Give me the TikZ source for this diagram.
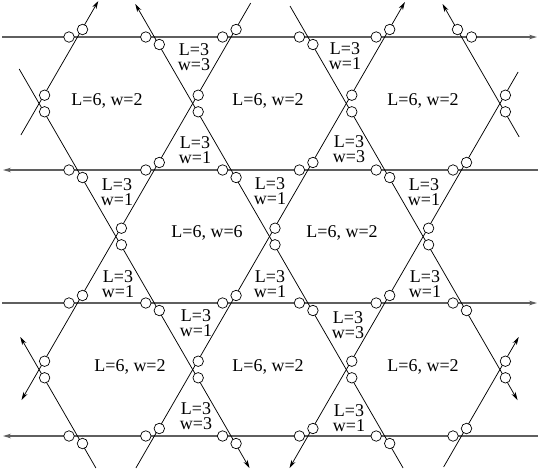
\documentclass[tikz,border=0pt]{standalone}
\usepackage{fontspec}
\setmainfont{Liberation Serif}
\usetikzlibrary{arrows.meta,calc}
\definecolor{hgray}{RGB}{95,95,95}
\begin{document}
\begin{tikzpicture}[x=1pt,y=-1pt,
  hline/.style={draw=hgray,line width=1.1pt},
  dline/.style={draw=black,line width=0.75pt},
  tip/.style={-{Stealth[length=8pt,width=4.6pt,inset=2.4pt]}},
  ring/.style={circle,draw=black,fill=white,line width=0.7pt,inner sep=0pt,minimum size=10.5pt},
  lab/.style={font=\fontsize{18}{15.5}\selectfont,align=center,inner sep=0pt},
]
\useasboundingbox (0,0) rectangle (538,475);

% lattice vertices on horizontal lines
\foreach \r in {0,...,3}{\foreach \k in {0,...,5}{
  \coordinate (v\r\k) at ({77.5+76.8*\k},{37+133*\r});
}}
% crossings of the diagonal lines
\foreach \j/\x in {0/39.1,1/192.7,2/346.3,3/499.9}{
  \coordinate (xa\j) at (\x,103.5);
  \coordinate (xc\j) at (\x,369.5);
}
\foreach \j/\x in {0/115.9,1/269.5,2/423.1}{
  \coordinate (xb\j) at (\x,236.5);
}

% horizontal lines
\coordinate (h0a) at (2,37);   \coordinate (h0b) at (537,37);
\coordinate (h1a) at (538,170); \coordinate (h1b) at (3,170);
\coordinate (h2a) at (2,303);  \coordinate (h2b) at (537,303);
\coordinate (h3a) at (538,436); \coordinate (h3b) at (3,436);
\draw[hline,tip] (h0a) -- (h0b);
\draw[hline,tip] (h1a) -- (h1b);
\draw[hline,tip] (h2a) -- (h2b);
\draw[hline,tip] (h3a) -- (h3b);

% rising lines (/)
\coordinate (c1a) at (20.9,135);  \coordinate (c1b) at (98.3,1);
\coordinate (c2a) at (250.7,3);   \coordinate (c2b) at (21.5,400);
\coordinate (c3a) at (135.9,468); \coordinate (c3b) at (404.9,2);
\coordinate (c4a) at (518.1,72);  \coordinate (c4b) at (289.5,468);
\coordinate (c5a) at (443.6,467); \coordinate (c5b) at (518.7,337);
\draw[dline,tip] (c1a) -- (c1b);
\draw[dline,tip] (c2a) -- (c2b);
\draw[dline,tip] (c3a) -- (c3b);
\draw[dline,tip] (c4a) -- (c4b);
\draw[dline,tip] (c5a) -- (c5b);

% falling lines (\)
\coordinate (d0a) at (19.2,69);   \coordinate (d0b) at (249.5,468);
\coordinate (d1a) at (403.1,468); \coordinate (d1b) at (135.3,4);
\coordinate (d2a) at (290.0,6);   \coordinate (d2b) at (517.5,400);
\coordinate (d3a) at (519.2,137); \coordinate (d3b) at (442.5,4);
\coordinate (d4a) at (95.9,468);  \coordinate (d4b) at (20.3,337);
\draw[dline,tip] (d0a) -- (d0b);
\draw[dline,tip] (d1a) -- (d1b);
\draw[dline,tip] (d2a) -- (d2b);
\draw[dline,tip] (d3a) -- (d3b);
\draw[dline,tip] (d4a) -- (d4b);

% rings at the vertices on horizontal lines
\foreach \r in {0,...,3}{\foreach \k in {0,...,5}{
  \pgfmathtruncatemacro\pp{mod(\r+\k,2)}
  \pgfmathtruncatemacro\ex{and(\r==0,\k==5)}
  \ifnum\ex=1
    \node[ring] (h\r\k) at ($(v\r\k)+(10,0)$) {};
    \node[ring] (g\r\k) at ($(v\r\k)+(-4,-7.5)$) {};
  \else
    \node[ring] (h\r\k) at ($(v\r\k)+(-8.5,0)$) {};
    \ifnum\pp=0
      \node[ring] (g\r\k) at ($(v\r\k)+(5,-7.5)$) {};
    \else
      \node[ring] (g\r\k) at ($(v\r\k)+(5,7.5)$) {};
    \fi
  \fi
}}
% rings at the diagonal crossings
\foreach \j in {0,...,3}{
  \node[ring] (ua\j) at ($(xa\j)+(5.5,-8.3)$) {};
  \node[ring] (la\j) at ($(xa\j)+(5.5,8.3)$) {};
  \node[ring] (uc\j) at ($(xc\j)+(5.5,-8.3)$) {};
  \node[ring] (lc\j) at ($(xc\j)+(5.5,8.3)$) {};
}
\foreach \j in {0,...,2}{
  \node[ring] (ub\j) at ($(xb\j)+(5.5,-8.3)$) {};
  \node[ring] (lb\j) at ($(xb\j)+(5.5,8.3)$) {};
}

% hexagon labels
\node[lab] (H1) at (107,101) {L=6, w=2};
\node[lab] (H2) at (268,101) {L=6, w=2};
\node[lab] (H3) at (423,101) {L=6, w=2};
\node[lab] (H4) at (207,233) {L=6, w=6};
\node[lab] (H5) at (342,233) {L=6, w=2};
\node[lab] (H6) at (130,367) {L=6, w=2};
\node[lab] (H7) at (268,367) {L=6, w=2};
\node[lab] (H8) at (423,367) {L=6, w=2};

% triangle labels
\node[lab] (T1)  at (194,57)  {L=3\\w=3};
\node[lab] (T2)  at (345,56)  {L=3\\w=1};
\node[lab] (T3)  at (195,150) {L=3\\w=1};
\node[lab] (T4)  at (349,149) {L=3\\w=3};
\node[lab] (T5)  at (117,192) {L=3\\w=1};
\node[lab] (T6)  at (270,191) {L=3\\w=1};
\node[lab] (T7)  at (424,192) {L=3\\w=1};
\node[lab] (T8)  at (118,284) {L=3\\w=1};
\node[lab] (T9)  at (270,284) {L=3\\w=1};
\node[lab] (T10) at (425,284) {L=3\\w=1};
\node[lab] (T11) at (196,323) {L=3\\w=1};
\node[lab] (T12) at (348,325) {L=3\\w=3};
\node[lab] (T13) at (196,416) {L=3\\w=3};
\node[lab] (T14) at (349,418) {L=3\\w=1};
\end{tikzpicture}
\end{document}
